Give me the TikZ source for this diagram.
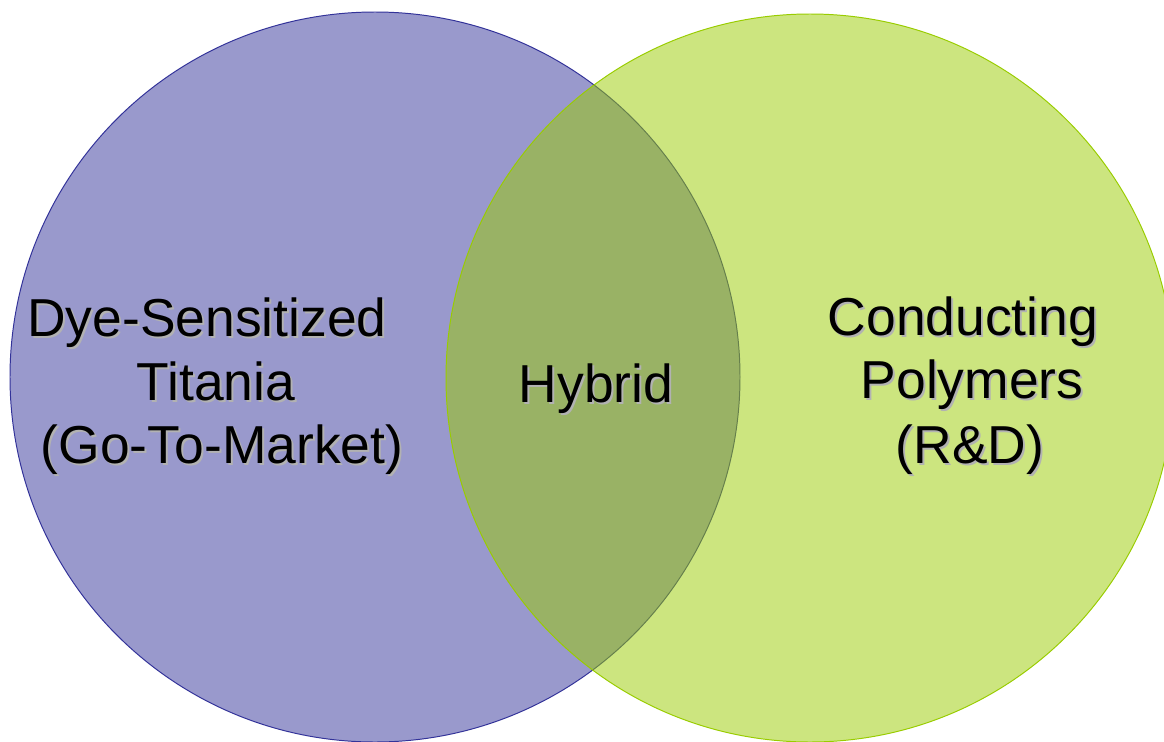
\documentclass[tikz,border=0pt]{standalone}
\usepackage{fontspec}
\setmainfont{Liberation Sans}
\usepackage{tikz}

\definecolor{dyeblue}{HTML}{333399}
\definecolor{polygreen}{HTML}{99CC00}
\definecolor{shadowgray}{HTML}{B2B2B2}

\begin{document}
\begin{tikzpicture}[x=0.025cm, y=-0.025cm,
  label/.style={anchor=base, inner sep=0pt,
    font=\fontsize{38pt}{45pt}\selectfont},
  labelshadow/.style={label, text=shadowgray}]

\useasboundingbox (0,0) rectangle (1164,742);
\clip (0,0) rectangle (1164,742);

\coordinate (dye) at (375,377);
\coordinate (poly) at (810,378);

% the two sets
\fill[dyeblue, fill opacity=0.5] (dye) circle (365);
\draw[dyeblue, line width=0.7pt] (dye) circle (365);
\fill[polygreen, fill opacity=0.5] (poly) circle (364);
\draw[polygreen, line width=0.7pt] (poly) circle (364);

% labels line by line, each with its grey shadow
\foreach \txt/\x/\y [count=\i] in {Dye-Sensitized/207/336, Titania/216/400,
    (Go-To-Market)/222/463, Hybrid/596/402, Conducting/963/335,
    Polymers/972/398, (R\&D)/970/463} {
  \node[labelshadow] (shadow\i) at (\x+2,\y+2) {\txt};
  \node[label] (line\i) at (\x,\y) {\txt};
}

\end{tikzpicture}
\end{document}
